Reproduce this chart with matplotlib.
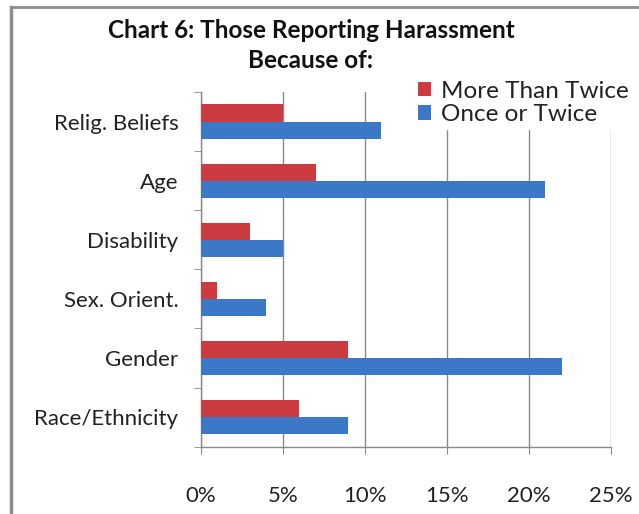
import numpy as np
import matplotlib
matplotlib.use("Agg")
import matplotlib.pyplot as plt
from matplotlib.lines import Line2D

plt.rcParams['font.family'] = ['Lato', 'DejaVu Sans']

categories = ['Relig. Beliefs', 'Age', 'Disability', 'Sex. Orient.', 'Gender', 'Race/Ethnicity']
more_than_twice = [5, 7, 3, 1, 9, 6]
once_or_twice = [11, 21, 5, 4, 22, 9]
xticks = [0, 5, 10, 15, 20, 25]

RED = '#CC3B40'
BLUE = '#3B78C8'
GRID = '#8A8A8A'

fig = plt.figure(figsize=(6.39, 5.14), dpi=100)
ax = fig.add_axes([0.314, 0.131, 0.642, 0.690])

y = np.arange(len(categories))[::-1]
h = 0.29
ax.barh(y + h / 2, more_than_twice, height=h, color=RED, label='More Than Twice', zorder=3)
ax.barh(y - h / 2, once_or_twice, height=h, color=BLUE, label='Once or Twice', zorder=3)

ax.set_xlim(0, 25)
ax.set_ylim(-0.5, len(categories) - 0.5)
ax.set_xticks(xticks)
ax.set_xticklabels([f'{v}%' for v in xticks], fontsize=16, color='#222222')
ax.set_yticks(y)
ax.set_yticklabels(categories, fontsize=16, color='#222222')
ax.set_yticks(np.arange(len(categories) + 1) - 0.5, minor=True)
ax.tick_params(axis='y', which='major', length=0, pad=16)
ax.tick_params(axis='y', which='minor', length=5, color=GRID, direction='out')
ax.tick_params(axis='x', length=5, color=GRID, pad=23)

ax.xaxis.grid(True, color=GRID, linewidth=1.0, zorder=0)
ax.set_axisbelow(True)
for side in ['top', 'right']:
    ax.spines[side].set_visible(False)
for side in ['left', 'bottom']:
    ax.spines[side].set_color(GRID)
    ax.spines[side].set_linewidth(1.0)

leg = ax.legend(loc='upper left', bbox_to_anchor=(0.648, 0.850), bbox_transform=fig.transFigure,
                fontsize=17.5, frameon=True, facecolor='white', edgecolor='white', framealpha=1,
                handlelength=0.55, handleheight=0.55, handletextpad=0.4, labelspacing=0.1,
                borderpad=0.15, borderaxespad=0)
leg.set_zorder(5)
for t in leg.get_texts():
    t.set_color('#222222')

fig.text(0.488, 0.940, 'Chart 6: Those Reporting Harassment', ha='center', va='center',
         fontsize=17.5, fontweight='bold', color='#111111')
fig.text(0.486, 0.883, 'Because of:', ha='center', va='center',
         fontsize=17.5, fontweight='bold', color='#111111')

# outer chart border (top and left edges visible in the crop)
fig.add_artist(Line2D([0.017, 0.017], [0, 0.987], transform=fig.transFigure, color='#8C8C8C', linewidth=2.5))
fig.add_artist(Line2D([0.017, 1.0], [0.987, 0.987], transform=fig.transFigure, color='#8C8C8C', linewidth=2.0))

fig.savefig('out.png', dpi=100, facecolor='white')
